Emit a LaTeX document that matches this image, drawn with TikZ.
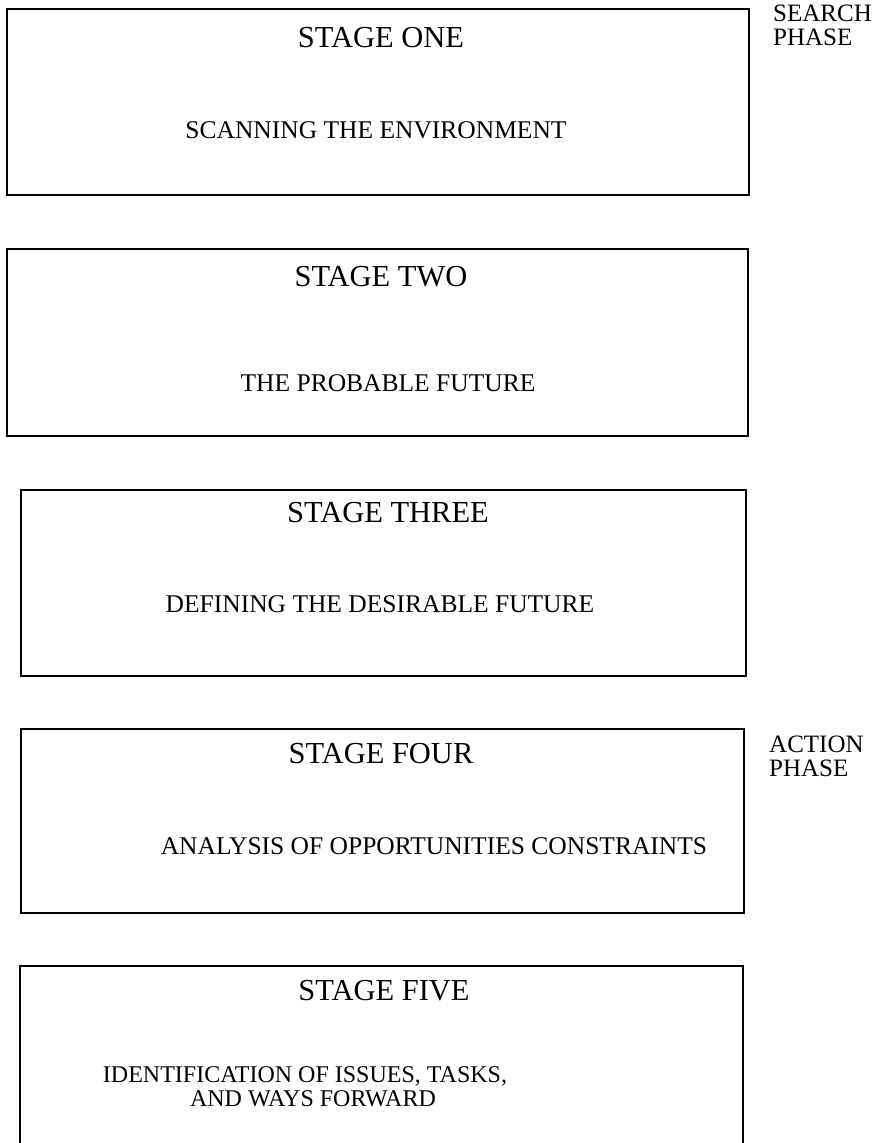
\documentclass[tikz,border=0pt]{standalone}
\usepackage{fontspec}
\setmainfont{Liberation Serif}
\usepackage{tikz}

\tikzset{
  stagebox/.style={line width=1.6pt},
  stagetitle/.style={anchor=base,font=\fontsize{30.5}{30}\selectfont},
  stagetext/.style={anchor=base,inner sep=0pt,font=\fontsize{25.5}{24}\selectfont},
  phaselabel/.style={anchor=base west,align=left,inner sep=0pt,
    font=\fontsize{25}{24}\selectfont}
}

\begin{document}
\begin{tikzpicture}[x=1pt,y=-1pt]
\useasboundingbox (0,0) rectangle (881,1143);
% the five stage boxes
\draw[stagebox] (7,9) rectangle (749,195);
\draw[stagebox] (7,249) rectangle (748,436);
\draw[stagebox] (21,490) rectangle (746,676);
\draw[stagebox] (21,729) rectangle (744,913);
\draw[stagebox] (20,966) rectangle (743,1150);
% titles and descriptions
\node[stagetitle] (one) at (381,47) {STAGE ONE};
\node[stagetext] (onetext) at (376,138) {SCANNING THE ENVIRONMENT};
\node[stagetitle] (two) at (381,286) {STAGE TWO};
\node[stagetext] (twotext) at (388,391) {THE PROBABLE FUTURE};
\node[stagetitle] (three) at (388,522) {STAGE THREE};
\node[stagetext] (threetext) at (380,612) {DEFINING THE DESIRABLE FUTURE};
\node[stagetitle] (four) at (381,763) {STAGE FOUR};
\node[stagetext] (fourtext) at (434,854) {ANALYSIS OF OPPORTUNITIES CONSTRAINTS};
\node[stagetitle] (five) at (384,1000) {STAGE FIVE};
\node[stagetext,font=\fontsize{24}{24}\selectfont] (fivetext) at (305,1082) {IDENTIFICATION OF ISSUES, TASKS,};
\node[stagetext,font=\fontsize{24}{24}\selectfont] (fivetextb) at (313,1106) {AND WAYS FORWARD};
% phases on the right (base is the last line)
\node[phaselabel] (search) at (773,45) {SEARCH\\PHASE};
\node[phaselabel] (action) at (769,776) {ACTION\\PHASE};
\end{tikzpicture}
\end{document}
